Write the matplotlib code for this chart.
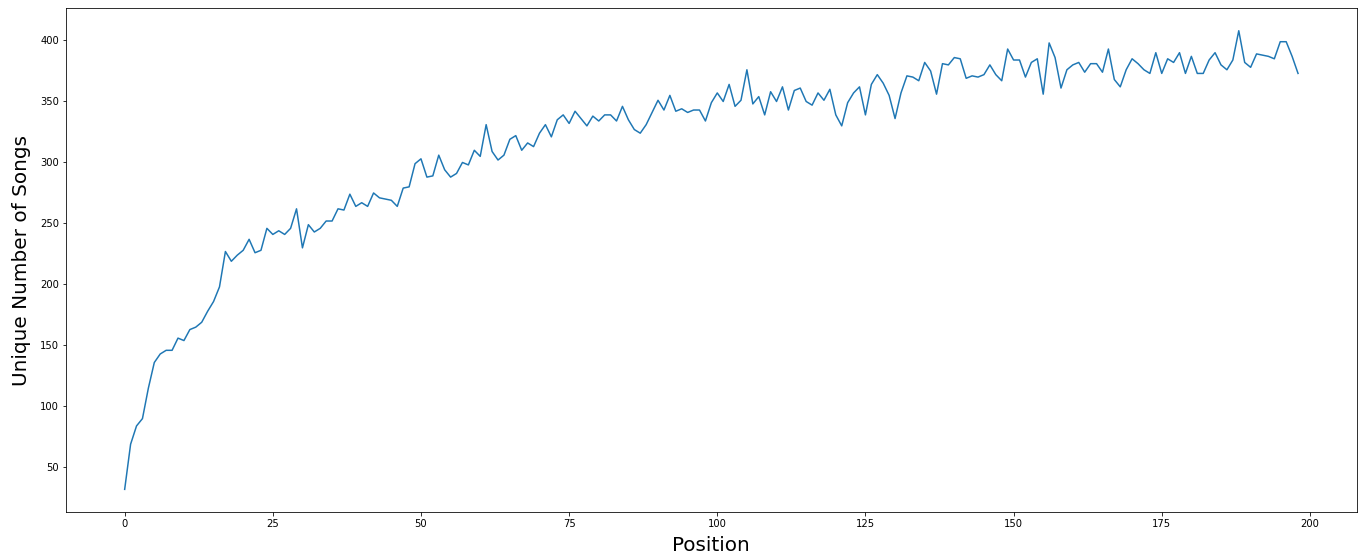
import matplotlib.pyplot as plt

# unique songs seen at each chart position
unique_songs = [32, 69, 84, 90, 115, 136, 143, 146, 146, 156,
                154, 163, 165, 169, 178, 186, 198, 227, 219, 224,
                228, 237, 226, 228, 246, 241, 244, 241, 246, 262,
                230, 249, 243, 246, 252, 252, 262, 261, 274, 264,
                267, 264, 275, 271, 270, 269, 264, 279, 280, 299,
                303, 288, 289, 306, 294, 288, 291, 300, 298, 310,
                305, 331, 309, 302, 306, 319, 322, 310, 316, 313,
                324, 331, 321, 335, 339, 332, 342, 336, 330, 338,
                334, 339, 339, 334, 346, 335, 327, 324, 331, 341,
                351, 343, 355, 342, 344, 341, 343, 343, 334, 349,
                357, 350, 364, 346, 351, 376, 348, 354, 339, 358,
                350, 362, 343, 359, 361, 350, 347, 357, 351, 360,
                339, 330, 349, 357, 362, 339, 364, 372, 365, 355,
                336, 357, 371, 370, 367, 382, 375, 356, 381, 380,
                386, 385, 369, 371, 370, 372, 380, 372, 367, 393,
                384, 384, 370, 382, 385, 356, 398, 386, 361, 376,
                380, 382, 374, 381, 381, 374, 393, 368, 362, 376,
                385, 381, 376, 373, 390, 373, 385, 382, 390, 373,
                387, 373, 373, 384, 390, 380, 376, 384, 408, 382,
                378, 389, 388, 387, 385, 399, 399, 387, 373]
positions = list(range(len(unique_songs)))

fig = plt.figure(figsize=(1358 / 72, 558 / 72), dpi=72)
ax = fig.add_axes([66 / 1358, 45.7 / 558, 1290.7 / 1358, 504.5 / 558])

ax.plot(positions, unique_songs, color='#1f77b4', linewidth=1.5)
ax.set_xlabel('Position', fontsize=20, labelpad=7)
ax.set_ylabel('Unique Number of Songs', fontsize=20, labelpad=9)

fig.savefig('out.png', dpi=72)
